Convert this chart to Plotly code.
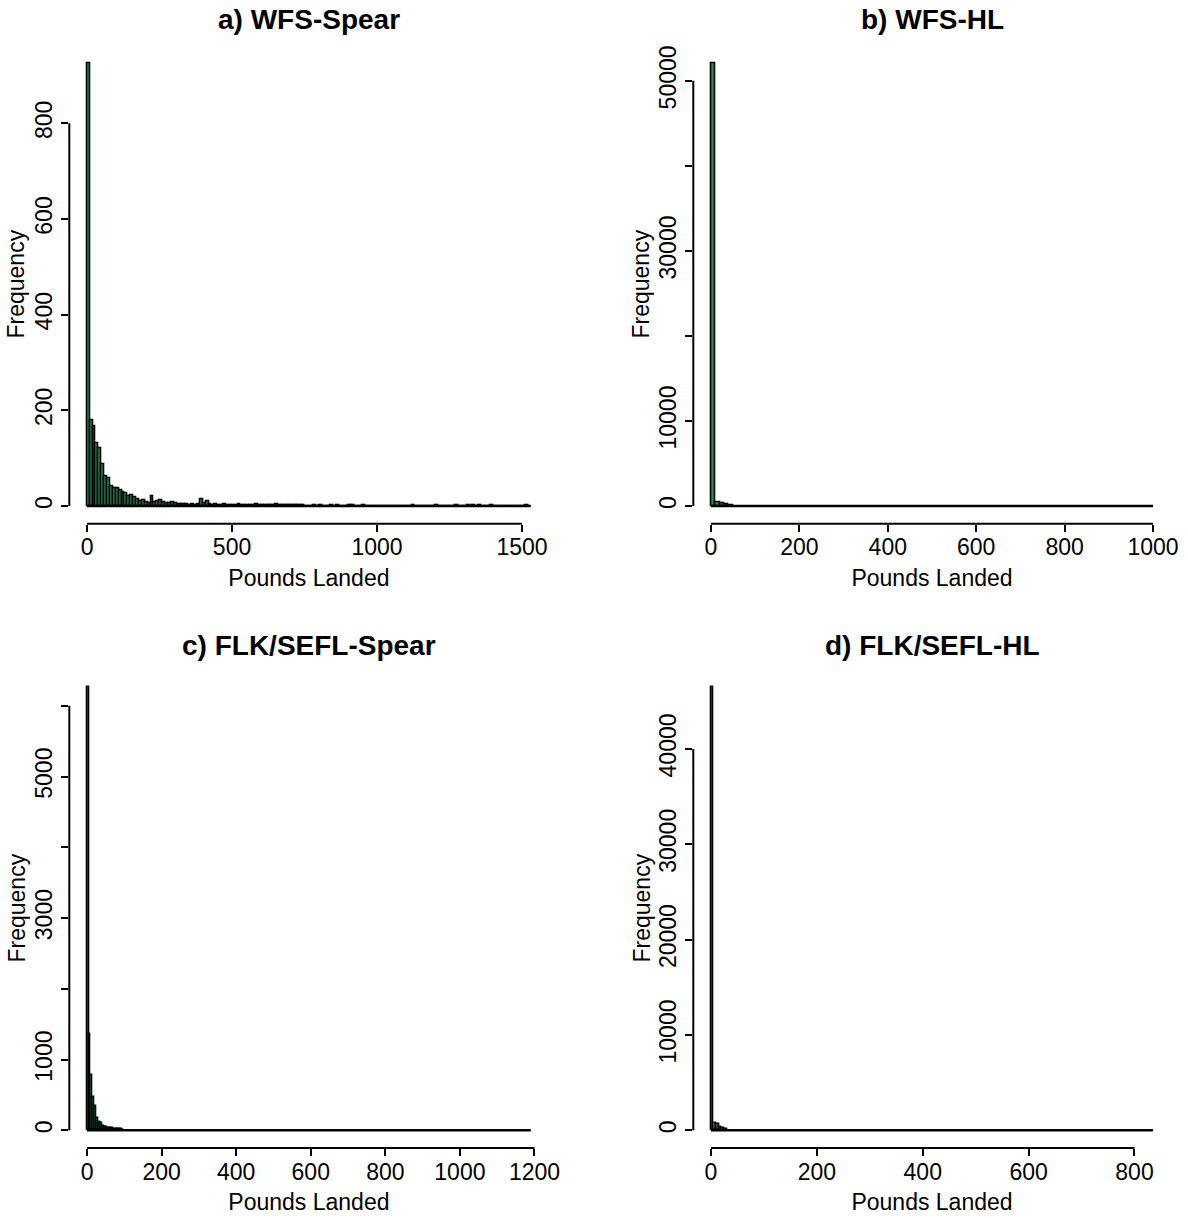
import plotly.graph_objects as go

# ---------------- data ----------------
titles = ["a) WFS-Spear", "b) WFS-HL", "c) FLK/SEFL-Spear", "d) FLK/SEFL-HL"]

# a) WFS-Spear: bin width 10 lb, 0-1530
a_binw = 10
a_xmax = 1530
a_counts = [
    926, 179, 166, 132, 120, 88, 62, 58, 42, 38,
    38, 32, 28, 26, 20, 22, 18, 15, 10, 12,
    8, 5, 20, 7, 9, 12, 8, 6, 6, 7,
    5, 4, 3, 3, 3, 2, 3, 2, 3, 13,
    5, 9, 3, 2, 3, 2, 2, 3, 2, 2,
    1, 2, 3, 2, 2, 1, 2, 2, 3, 2,
    1, 2, 2, 1, 2, 3, 2, 2, 1, 2,
    1, 2, 1, 1, 2, 0, 0, 0, 1, 0,
    1, 0, 0, 0, 1, 0, 1, 0, 0, 0,
    1, 1, 0, 0, 0, 1, 0, 0, 0, 0,
    0, 0, 0, 0, 0, 0, 0, 0, 0, 0,
    0, 0, 1, 0, 0, 0, 0, 0, 0, 0,
    1, 0, 0, 0, 0, 0, 0, 1, 0, 0,
    0, 1, 0, 1, 0, 1, 0, 0, 0, 1,
    0, 0, 0, 0, 0, 0, 0, 0, 0, 0,
    0, 1, 0,
]
a_xticks = [0, 500, 1000, 1500]
a_yticks = [0, 200, 400, 600, 800]
a_ylabels = ["0", "200", "400", "600", "800"]

# b) WFS-HL: bin width 10 lb, 0-1000 (visible bins only)
b_binw = 10
b_xmax = 1000
b_counts = [52100, 420, 260, 150, 90]
b_xticks = [0, 200, 400, 600, 800, 1000]
b_yticks = [0, 10000, 20000, 30000, 40000, 50000]
b_ylabels = ["0", "10000", "", "30000", "", "50000"]

# c) FLK/SEFL-Spear: bin width 5 lb, 0-1190 (visible bins only)
c_binw = 5
c_xmax = 1190
c_counts = [6270, 1360, 780, 470, 350, 175, 110, 100, 62, 50,
            40, 35, 30, 28, 22, 20, 18, 15, 12, 10]
c_xticks = [0, 200, 400, 600, 800, 1000, 1200]
c_yticks = [0, 1000, 2000, 3000, 4000, 5000, 6000]
c_ylabels = ["0", "1000", "", "3000", "", "5000", ""]

# d) FLK/SEFL-HL: bin width 5 lb, 0-835 (visible bins only)
d_binw = 5
d_xmax = 835
d_counts = [46520, 750, 650, 300, 260, 170]
d_xticks = [0, 200, 400, 600, 800]
d_yticks = [0, 10000, 20000, 30000, 40000]
d_ylabels = ["0", "10000", "20000", "30000", "40000"]

# ---------------- styling ----------------
FILL = "#2E8B57"
FONT = "Liberation Sans, Arial, sans-serif"
TICK_SIZE = 23
TITLE_SIZE = 28
W, H = 1188, 1218

col_dom = [[69.3 / W, 548.5 / W], [693.3 / W, 1170.7 / W]]
row_dom = [[1 - 523.7 / H, 1 - 45.3 / H], [1 - 1148.0 / H, 1 - 669.0 / H]]
title_y = [1 - 20 / H, 1 - 645 / H]
ytitle_x = [16 / W, 641 / W]

panels = [
    (a_binw, a_xmax, a_counts, a_xticks, a_yticks, a_ylabels),
    (b_binw, b_xmax, b_counts, b_xticks, b_yticks, b_ylabels),
    (c_binw, c_xmax, c_counts, c_xticks, c_yticks, c_ylabels),
    (d_binw, d_xmax, d_counts, d_xticks, d_yticks, d_ylabels),
]

fig = go.Figure()
shapes = []
annotations = []
layout = dict(
    width=W, height=H,
    margin=dict(l=0, r=0, t=0, b=0),
    paper_bgcolor="white", plot_bgcolor="white",
    showlegend=False,
    font=dict(family=FONT, color="black", size=TICK_SIZE),
)

for i, (bw, xmax, counts, xt, yt, yl) in enumerate(panels):
    r, c = divmod(i, 2)
    n = i + 1
    xa = "x" if n == 1 else f"x{n}"
    ya = "y" if n == 1 else f"y{n}"
    centers = [bw * (k + 0.5) for k in range(len(counts))]
    ymax = max(counts)

    fig.add_trace(go.Bar(
        x=centers, y=counts, width=bw,
        marker=dict(color=FILL, line=dict(color="black", width=1.6)),
        xaxis=xa, yaxis=ya, hoverinfo="x+y",
    ))

    axis_common = dict(
        ticks="outside", ticklen=7, tickwidth=2, tickcolor="black",
        showline=False, showgrid=False, zeroline=False,
        tickfont=dict(family=FONT, size=TICK_SIZE, color="black"),
        automargin=False, fixedrange=True,
    )
    layout["xaxis" if n == 1 else f"xaxis{n}"] = dict(
        domain=col_dom[c], anchor=ya,
        range=[-0.04 * xmax, 1.04 * xmax],
        tickmode="array", tickvals=xt, ticktext=[str(v) for v in xt],
        ticklabelstandoff=-4,
        title=dict(text="Pounds Landed", font=dict(family=FONT, size=TICK_SIZE), standoff=10),
        **axis_common,
    )
    layout["yaxis" if n == 1 else f"yaxis{n}"] = dict(
        domain=row_dom[r], anchor=xa,
        range=[-0.04 * ymax, 1.04 * ymax],
        tickmode="array", tickvals=yt, ticktext=yl, tickangle=-90,
        **axis_common,
    )

    # R-style axis lines spanning first to last tick
    shapes.append(dict(type="line", xref=xa, yref=f"{ya} domain",
                       x0=xt[0], x1=xt[-1], y0=0, y1=0,
                       line=dict(color="black", width=2)))
    shapes.append(dict(type="line", xref=f"{xa} domain", yref=ya,
                       x0=0, x1=0, y0=yt[0], y1=yt[-1],
                       line=dict(color="black", width=2)))
    # baseline of empty histogram cells
    shapes.append(dict(type="line", xref=xa, yref=ya,
                       x0=0, x1=xmax, y0=0, y1=0,
                       line=dict(color="black", width=2.5)))

    annotations.append(dict(
        text=f"<b>{titles[i]}</b>", xref=f"{xa} domain", yref="paper",
        x=0.5, y=title_y[r], xanchor="center", yanchor="middle",
        showarrow=False, font=dict(family=FONT, size=TITLE_SIZE, color="black"),
    ))
    annotations.append(dict(
        text="Frequency", xref="paper", yref=f"{ya} domain",
        x=ytitle_x[c], y=0.5, xanchor="center", yanchor="middle",
        textangle=-90, showarrow=False,
        font=dict(family=FONT, size=TICK_SIZE, color="black"),
    ))

layout["shapes"] = shapes
layout["annotations"] = annotations
layout["bargap"] = 0
fig.update_layout(**layout)
fig.write_html("out.html")
